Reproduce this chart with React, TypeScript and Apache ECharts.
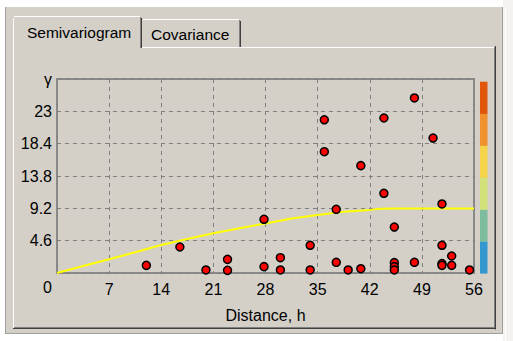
import React, { useEffect, useRef } from "react";
import * as echarts from "echarts";

// Experimental semivariogram cloud: (distance h, gamma)
const cloudDistance = [
  12.0, 16.5, 20.0, 22.9, 22.9, 27.8, 27.8, 30.0, 30.0, 34.0, 34.0, 35.9, 35.9,
  37.5, 37.5, 39.1, 40.8, 40.8, 43.9, 43.9, 45.3, 45.3, 45.3, 45.3, 48.0, 48.0,
  50.5, 51.7, 51.7, 51.7, 51.7, 53.0, 53.0, 55.4,
];
const cloudGamma = [
  1.09, 3.7, 0.43, 1.94, 0.38, 7.64, 0.9, 2.18, 0.43, 3.94, 0.43, 21.8, 17.26,
  9.06, 1.52, 0.43, 15.27, 0.61, 22.05, 11.34, 6.54, 1.47, 0.9, 0.43, 24.9, 1.52,
  19.2, 9.82, 3.94, 1.35, 1.09, 2.42, 1.09, 0.43,
];

// Fitted model curve
const modelDistance = [0, 3.5, 7, 10.5, 14, 17.5, 21, 24.5, 28, 31.5, 35, 38.5, 42, 43.5, 45.5, 49, 52.5, 56];
const modelGamma = [0, 1.0, 1.95, 2.95, 3.98, 4.85, 5.65, 6.38, 7.05, 7.75, 8.25, 8.7, 8.98, 9.15, 9.17, 9.17, 9.17, 9.17];

const xTicks = [0, 7, 14, 21, 28, 35, 42, 49, 56];
const yTicks = [0, 4.6, 9.2, 13.8, 18.4, 23, 27.6];

// Colour scale bar, bottom to top
const scaleColors = ["#3597d0", "#7bbd9d", "#d3e17b", "#f5d44a", "#ef922f", "#e0570c"];

const tabs = ["Semivariogram", "Covariance"];

const FONT = '"Liberation Sans", Arial, sans-serif';
const BG = "#d4d0c8";

export default function App() {
  const ref = useRef<HTMLDivElement>(null);

  useEffect(() => {
    if (!ref.current) return;
    const chart = echarts.init(ref.current, undefined, { renderer: "svg" });

    const line = (x1: number, y1: number, x2: number, y2: number, stroke: string, lw = 1) => ({
      type: "line",
      silent: true,
      shape: { x1, y1, x2, y2 },
      style: { stroke, lineWidth: lw },
    });

    const barTop = 81.7;
    const barBottom = 273.3;
    const seg = (barBottom - barTop) / scaleColors.length;
    const bar = scaleColors.map((c, i) => ({
      type: "rect",
      silent: true,
      shape: { x: 480, y: barBottom - (i + 1) * seg, width: 7.5, height: seg + 0.3 },
      style: { fill: c },
    }));

    const frame = [
      // outer white margins
      { type: "rect", shape: { x: 0, y: 0, width: 513, height: 7 }, style: { fill: "#ffffff" } },
      { type: "rect", shape: { x: 0, y: 0, width: 5, height: 341 }, style: { fill: "#ffffff" } },
      { type: "rect", shape: { x: 0, y: 334, width: 513, height: 7 }, style: { fill: "#ffffff" } },
      { type: "rect", shape: { x: 503, y: 0, width: 10, height: 341 }, style: { fill: "#f4f3ef" } },
      line(5.5, 7, 5.5, 334, "#a0a0a0"),
      line(5, 333.5, 503, 333.5, "#a0a0a0"),
      line(502.5, 7, 502.5, 334, "#a0a0a0"),
      line(505.5, 7, 505.5, 341, "#ffffff"),
      // tab page
      line(13.5, 47, 13.5, 329, "#ffffff"),
      line(142, 47.5, 495, 47.5, "#ffffff"),
      line(494.5, 47, 494.5, 328, "#808080"),
      line(495.5, 46, 495.5, 329.5, "#404040"),
      line(14, 327.5, 495, 327.5, "#808080"),
      line(13, 328.5, 496, 328.5, "#404040"),
      // inactive tab
      line(143, 19.5, 239, 19.5, "#ffffff"),
      line(239.5, 20, 239.5, 47, "#808080"),
      line(240.5, 21, 240.5, 47, "#404040"),
      // active tab
      line(13.5, 18, 13.5, 48, "#ffffff"),
      line(15, 16.5, 140, 16.5, "#ffffff"),
      line(14, 17, 15, 16, "#ffffff"),
      line(140.5, 17, 140.5, 48, "#808080"),
      line(141.5, 18, 141.5, 48, "#404040"),
      {
        type: "text",
        silent: true,
        x: 27,
        y: 32,
        style: { text: tabs[0], fontSize: 15.5, fontFamily: FONT, fill: "#000", align: "left", verticalAlign: "middle" },
      },
      {
        type: "text",
        silent: true,
        x: 151,
        y: 34,
        style: { text: tabs[1], fontSize: 15.5, fontFamily: FONT, fill: "#000", align: "left", verticalAlign: "middle" },
      },
      // shared origin label
      {
        type: "text",
        silent: true,
        x: 52,
        y: 287,
        style: { text: "0", fontSize: 16, fontFamily: FONT, fill: "#000", align: "right", verticalAlign: "middle" },
      },
    ];

    const fmt = (v: number) => String(Math.round(v * 10) / 10);

    chart.setOption({
      animation: false,
      backgroundColor: BG,
      grid: {
        left: 57,
        right: 39,
        top: 79,
        bottom: 68,
        show: true,
        borderColor: "#8a8a8a",
        borderWidth: 2,
        backgroundColor: "transparent",
      },
      xAxis: {
        type: "value",
        min: xTicks[0],
        max: xTicks[xTicks.length - 1],
        interval: 7,
        name: "Distance, h",
        nameLocation: "middle",
        nameGap: 34,
        nameTextStyle: { fontSize: 16, fontFamily: FONT, color: "#000" },
        axisLine: { show: false },
        axisTick: { show: false },
        axisLabel: {
          fontSize: 16,
          fontFamily: FONT,
          color: "#000",
          margin: 8,
          formatter: (v: number) => (v === 0 ? "" : fmt(v)),
        },
        splitLine: { show: true, lineStyle: { color: "#808080", type: [4, 4], width: 1 } },
      },
      yAxis: {
        type: "value",
        min: yTicks[0],
        max: yTicks[yTicks.length - 1],
        interval: 4.6,
        axisLine: { show: false },
        axisTick: { show: false },
        axisLabel: {
          fontSize: 16,
          fontFamily: FONT,
          color: "#000",
          margin: 5,
          formatter: (v: number) => (v === 0 ? "" : v > 27 ? "γ" : fmt(v)),
        },
        splitLine: { show: true, lineStyle: { color: "#808080", type: [4, 4], width: 1 } },
      },
      series: [
        {
          type: "line",
          data: modelDistance.map((d, i) => [d, modelGamma[i]]),
          showSymbol: false,
          symbol: "none",
          lineStyle: { color: "#ffff00", width: 2 },
          z: 3,
        },
        {
          type: "scatter",
          data: cloudDistance.map((d, i) => [d, cloudGamma[i]]),
          symbol: "circle",
          symbolSize: 8,
          itemStyle: { color: "#ff0000", borderColor: "#000000", borderWidth: 1.5, opacity: 1 },
          z: 4,
        },
      ],
      graphic: [...frame, ...bar],
    });

    return () => chart.dispose();
  }, []);

  return <div ref={ref} style={{ position: "fixed", left: 0, top: 0, width: 513, height: 341 }} />;
}
